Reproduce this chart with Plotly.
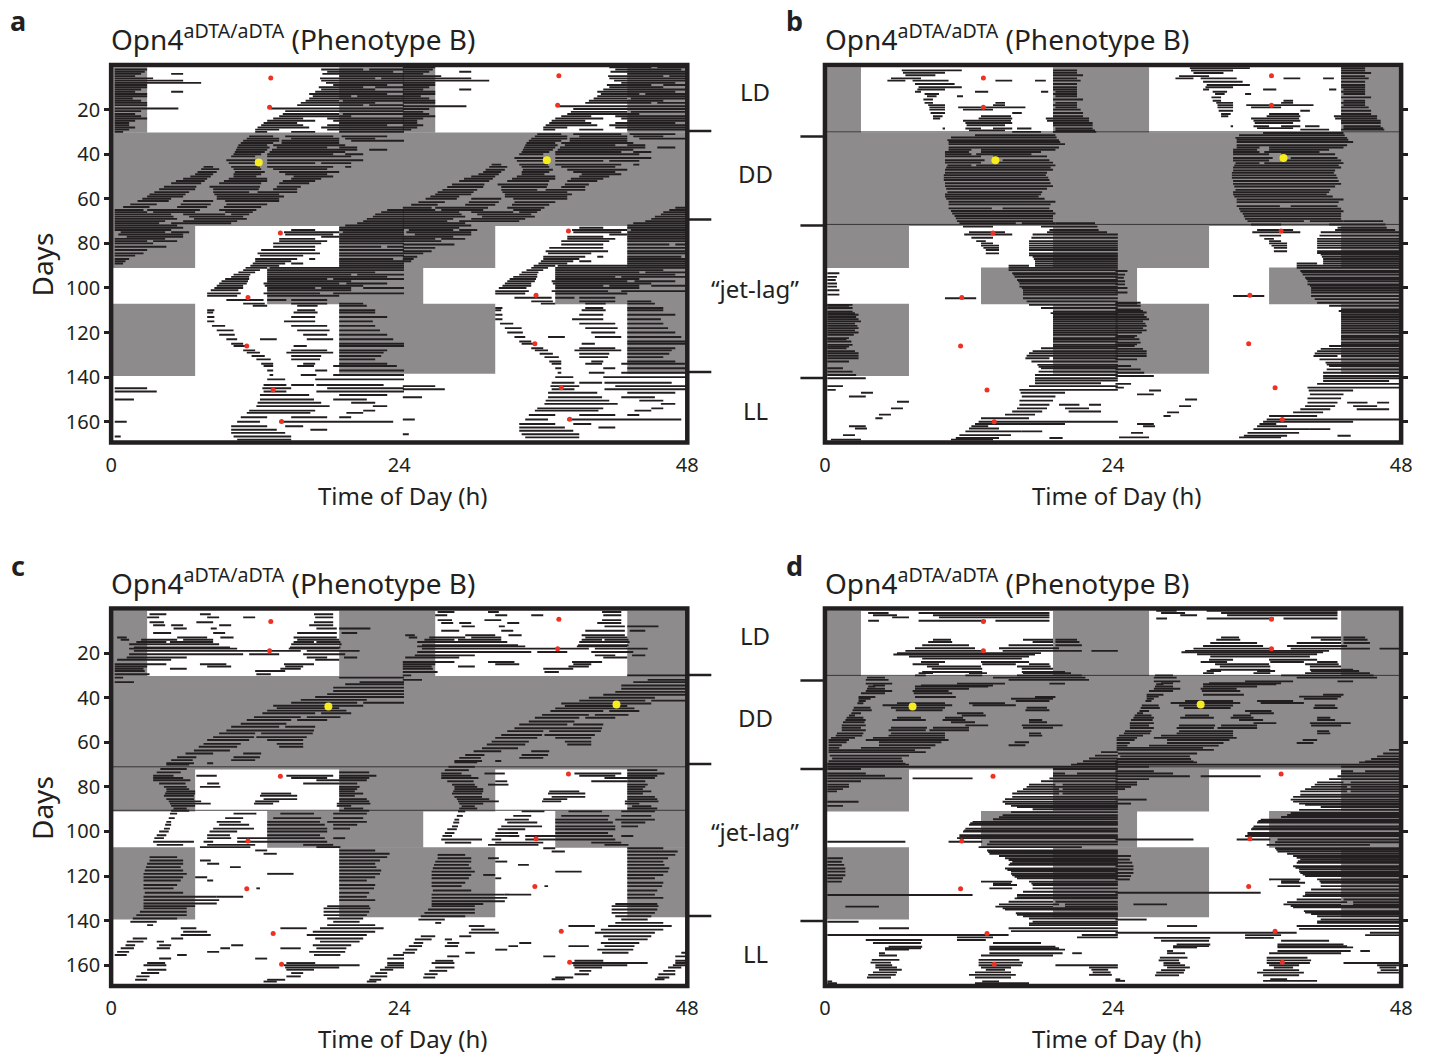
import plotly.graph_objects as go

W, H = 1431, 1057
INK = "#231f20"
GRAY = "#8d8b8c"
RED = "#ee3124"
YEL = "#f7ec1f"

# (day, on, off, on, off, ...) hours in 0-24; the second half of the double plot is the next day's row
a_rows = [
(2,.3,3,17.5,21,21.5,24),(4,.3,2.5,5,6,17.6,24),(6,.3,3.5,17.4,22,22.5,24),(8,.3,7.5,17.9,24),(10,.3,3,17.3,21,22,24),
(12,.3,2,5,6,17,24),(14,.3,3,16.8,20,20.5,24),(16,.3,2.5,16.2,19,19.3,24),(18,.3,3,15.5,21,21.5,24),(19.5,.3,5.6,13.3,24),
(22,.3,2,14.3,19,19.3,24),(24,.3,3,13.5,16,18,24),(26,.3,1.5,12.7,15.5,19,24),(28,.3,2,12.2,16.5,17.5,24),(30,.3,1,12,13,15,17,19,24),
(32,11.5,13.5,14.5,18.5,19.2,23),(34,11,14,14.2,19,20,24),(36,10.6,13,13.5,19.5),(38,10.4,13,13.4,20.5,21.5,23),(40,10.2,12.5,13,18.5,19.5,21),
(42.7,9.6,12,13,21),(45.7,7.7,8.5,10,12.4,13,18.5,19.5,20),(48,7.2,8.8,10.3,12.8,14,19),(50,6.6,8.3,10.2,12.1,15.2,18.5),(52,5.4,7.8,9.4,13,14.3,17),
(54.6,4.4,7.1,8.2,12.4,13.8,15.8),(57,3.6,6.5,8.5,11.5,12.2,15.5),(59,3,6,8.8,14.4),(61,2.2,4.8,6,8.5,9.5,14),(62.5,1.6,3.8,5.8,8.3,9.6,13),
(65,.3,2.7,3,7.4,9,12.1,23,24),(67,.3,5,6,9.5,10,11.5,22,24),(69,.3,5.5,6.9,11.3,21.3,24),(71,.3,4,5,10,20.5,24),(73,.3,6,19,24),
(75,.8,4.5,5,6.5,14.4,19,19.3,24),(77,1.3,6,17.5,19,19,24),(79,.3,3,3.5,5.5,14,18,19,24),(81.5,.3,4.6,13.5,17,19,22.5,23,24),(84.5,.3,2.7,12.2,17.4,19,24),
(87,.3,1.5,12,15.5,16.5,17,19,23.5),(89,.3,1,11.8,14.5,15,16,19,24),(92,11,12.4,13,24),(94,10.2,11.6,13,20,20.5,24),(96,9.5,11.5,13,18,18.5,24),
(98,9,11.3,12.7,19,19.6,23),(100,8.6,11,13,17,17.5,20,21,24),(102.4,8,10.8,12.7,17.4,18.5,24),(105.4,9.6,12.7,13,14.6,15,18),(108,11.8,13,15.5,17.2,19,21.3),
(111,8,8.5,15.2,17.2,19,22),(115,8,8.6,14.4,17,19,21.8),(119,8.8,10.2,15.5,18.2,19,22.4),(123,9.6,10.5,12.4,13.8,16.3,18.5,19,23.5),(126,10.2,11.3,15.2,16.3,19,24),
(129,11.3,12.4,14.6,18.5,19,22.7),(132,12.1,13.3,15,17.4,19,22),(135,12.7,13.5,15.5,16.9,18.5,23.8),(139,13.2,13.5,15.8,17.1,18.5,24),(143.5,12.7,14.6,15,16.9,17.1,22.7),
(146.4,.3,3.8,12.7,14.6,17.1,24),(150,.3,1.9,12.4,16.9,18.5,21.3),(153,12.1,18.2,21.8,23),(156,11.3,16.6,19.6,21),(160,.3,1.3,10.5,12.4,14,23.5),
(163.6,10,13.8,16.6,18),(166.6,10.2,15,.3,.8),
]
a_extra = [
(3,.3,2.8,18,23.5),(5,.3,2,19,24),(7,.3,6,17.5,24),(9,.3,3,18.5,23),(11,.3,2.5,17.5,22),(13,.3,3,16.5,23),(15,.3,1.8,16.5,24),(17,.3,3,15.8,22),(20.7,.3,2.5,14.5,24),
(23,.3,2.5,14,20),(25,.3,2,13,17,18.5,24),(27,.3,1.5,12.5,16,18,23),(29,.3,1.5,12,14,18,24),
(33,11.3,14,15,19,19.5,22),(35,10.8,13.5,14.2,19),(37,10.5,13.2,13.8,18,19,20.5),(39,10.3,12.8,13.2,19.5),(41,10,12,13,20),(44,9.8,12,13,17,17.5,20),(46.7,7.5,9,10.2,12.5,13.5,18),
(49,7,8.5,10.2,12.5,14.5,18),(51,6,8,9.8,13,15,17.5),(53,5,7.5,9,12.5,14,16.5),(55.7,4,7,8.5,12.3,13.5,15.5),(58,3.2,6.2,8.6,14),(60,2.6,5,8.8,14),(63.7,1,3.2,5.5,8,9.4,12.5),
(66,.3,3,3.5,7,9.5,11.8,22.5,24),(68,.3,5.2,6.5,11,21.8,24),(70,.3,4.5,6,10.5,21,24),(72,.3,5.5,19.5,24),(74,.3,5,15,17,19,24),(76,.6,6,14.5,18.5,19,24),(78,.3,4.5,14,17,19,24),
(80,.3,3.5,13.5,17.5,19,24),(83,.3,3,12.5,17,19,24),(85.5,.3,2,12.4,16,19,24),(88,.3,1.2,12,15,19,24),(90,11.6,14,19,24),(91,11.2,13,13.2,24),(93,10.6,12,13,22),(95,10,11.5,13,23),
(97,9.2,11.4,13,20),(99,8.8,11,12.8,21),(101,8.3,10.6,13,20),(103.5,8,10.5,13,19),(107,11,12.8,15,18,19,21),(110,8,8.6,15.5,17,19,22),(113,8,8.6,15,17,19,23),(117,8.4,9.5,15,18,19,22),
(121,9,10.3,16,18,19,23),(125,10,11,19,24),(128,11,12,15,18,19,23),(130.5,11.7,12.8,15,17.5,19,22.5),(134,12.5,13.5,16,17,19,23),(137,13,13.5,17,18,19,24),(141,13,14.5,17,24),
(145,.3,3,12.6,15,18,24),(148,12.4,16.5,19,23),(151.5,12.2,17.5,20,22),(155,11.5,17,21,22),(158,10.8,13,15,18,19,20),(162,10,13,14.5,16),(165,10,14.5),(168,10.5,15),
]
a_red_h = [13.3,13.2,14.1,11.4,11.3,13.5,14.2]
a_red_d = [5.8,19,75.4,104.3,126,145.7,159.9]
a_yel = (12.3,43.7)
a_thin = []

b_rows = [
(2.4,6.4,11.4,19,21),(4.6,6.7,9.2,19,21.5),(7,5.2,6.7,7.3,10.3,14.2,15.6,17.5,18.4,19,21.3),(10,7.8,11.4,19,21),(12,7.5,8,12.5,13.6,18,18.6,19.2,21),
(14,8.5,9.3,11,11.5,19.2,21),(17,8.3,9,14.2,15,19.2,21),(19,8.7,10,11.1,16.7,19.2,21),(21.5,8.8,10,15.6,16.4,19,21.5),(24,9,9.6,12.8,15.6,18.4,22),
(26,11.7,15.6,19,22.3),(28.5,9.8,10,11.7,13,14,15.6,16,17.2,19.2,22.3),(30,15.6,18,19,22.6),(31.5,12.5,19.2),(33.7,10.2,19.5),(35.5,10.3,20),
(38,10.3,12.2,13,19.2),(40,10,12.2,12.6,17.2),(42.7,10,13.3,14.8,18.7),(45,10.2,12.2,12.6,19.2),(47,10,19),(49.4,9.9,18.4),(51.6,9.9,18.7),
(54.3,10,19),(57,10.2,18.1),(59,10,17.8),(61.3,10.3,19.2),(64.3,10.3,13.9,14.8,18.7),(66.6,10.6,19.2),(68.8,10.9,19),(71,11.2,15.9,16.4,19.2,19.2,22.5),
(74,18.7,22.8),(76,11.6,15.6,17.3,24),(79,12.6,13.4,17,24),(81,13,14.5,17,24),(83,13.4,14.5,17,24),(84.5,13.4,14.5,17,24),(86,17.3,24),(88,17.5,24),(90,15.3,17,17.5,24),
(92,15.3,24),(93.4,.2,1.2,15.6,24),(95,.2,1,15.8,24),(96.4,.2,.9,16,24),(98,.2,1,16.2,24),(99.4,.2,1,16.2,24),(101,.2,1.2,16.5,24),(103,.2,1.2,16.5,24),
(104.6,10,12.6,16.5,24),(107.6,.2,2.3,17,24),(109,.2,2.3,18,24),(110.6,.2,2.3,19,24),(112,.2,2.8,19,24),(114,.2,2.8,19,24),(116,.2,2.5,19,24),(118,.2,2.8,19,24),(120,.2,2.8,19,24),
(122.5,.2,2,19,24),(124,.2,2.2,19,24),(125.5,.2,2.3,19,24),(127,.2,1.8,18,24),(129.3,.2,2.8,17,24),(131.5,.2,2.8,16.7,18.7,19,24),(134.5,17.7,24),(136,.2,1.5,18,24),(137.5,.2,2.3,17.8,24),
(140.5,.2,3.4,17.5,24),(142.7,17.5,23),(145.7,.2,.9,16.2,24),(148.7,2,3.4,16.4,19.2),(152.4,16.2,18.7,19.5,21.2,22,23),(155.4,15.6,18.1,20.3,23),(158.4,4.2,4.8,13,17),(160,12.8,24),
(162,2,3.4,12.2,13.6),(164.3,11.7,16.4,16.4,18.1),(167.3,10.9,14.5,18.7,19.8),
]
b_extra = [
(3.5,6.5,10,19,21),(6,5.5,8,19,21),(8.5,7.5,10.8,19,21),(11,7.7,10,19,21),(13,8.3,9.5,19,21),(15.5,8.2,9,19,21.5),(18,8.6,10,14,15,19,21),(20,8.7,10,11.5,14,19,21.3),(23,9,9.8,13,15.5,19,21.5),
(25,11.5,15.5,18.5,22),(27,11.8,15,19,22.3),(29.3,12,15,19.2,22.5),(32.5,10.5,19.3),(34.5,10.3,19.6),(37,10.3,19.5),(39,10,12,13,18),(41,10,13,14,18.5),(43.8,10,13,14,19),(46,10.1,18.8),
(48.3,10,18.5),(50.5,9.9,18.6),(53,10,18.8),(55.5,10.1,18.5),(58,10,18),(60,10.1,18.3),(62.5,10.3,18.8),(65.5,10.5,19),(67.7,10.8,19),(70,11,19),(72.5,11.5,14,18,22.7),(75,12,15,18.5,23.5),
(77.5,12.2,14,17.2,24),(80,13,14,17,24),(82,13.2,14.5,17,24),(85.3,17,24),(87,17.4,24),(89,17.5,24),(91,15.3,24),(94,15.7,24),(97,16.1,24),(100,16.4,24),(102,16.5,24),(106,16.8,24),
(108,.2,2),(111.3,.2,2.5,18.8,24),(113,.2,2.6,19,24),(115,.2,3,19,24),(117,.2,2.7,19,24),(119,.2,2.5,19,24),(121,.2,2.4,19,24),(123,.2,1.8,19,24),(126.3,.2,2,19,24),(128.3,.2,2.5,17.3,24),
(130.4,.2,2.8,16.8,24),(133,.2,2,17.2,24),(135.3,17.8,24),(139,.2,2.6,17.5,24),(141.5,17.5,24),(144,.2,1.5,17,24),(147,3,4,16.3,20),(150.5,16.2,19),(151,6,7),(154,5.5,6.5,16,18.5,20,22),
(156.8,4.5,5.5,15,17.5),(161,12.5,20),(163,2.5,3.5,12,14.5),(166,1.5,2.5,11.2,15.5),(168,.5,3,10.5,14),
]
b_red_h = [13.2,13.2,14.0,11.4,11.3,13.5,14.1]
b_red_d = [5.8,19,75.4,104.3,126,145.7,160]
b_yel = (14.2,42.7)
b_thin = [30,71.5]

c_rows = [
(2.6,3.2,4.6,7.4,8.3,16.9,18.5),(6.2,3.2,4.4,7.1,8.5,16.9,18.5),(9,5.2,6.3,8.3,8.8,17.1,18.8,19,21.6),(13,.5,1.3,5.5,8,9.1,10.2,15.2,18.8),
(15,2.1,4.6,4.9,8.5,15.2,16.9,17.1,19.1),(17.5,1.9,9.9,14.9,19.1),(19,1.9,15.8,16.3,20.7),(22,1.3,6.3,16.3,18,19.4,20.5),(25,.3,4.6,7.4,9.6,14.4,16.9),
(27,.3,2.7,4.9,6.3,14.1,15.8),(29.5,.3,3.2,12.1,13.3),(33,.3,1.9,20.7,24),(35.5,18.5,24),(38.4,18,24),(41,15.8,21.3),(43.6,13.5,18,18.3,21),
(45.8,13,19.6),(48.7,11.9,15.8,16.3,19.1),(51.7,10.8,14.6),(54.7,9.6,16.9),(57.7,8.5,11.9,12.1,16.3),(60.7,7.7,10.8,13.8,16),(63.7,6.9,9.9),(66.7,5.5,7.1,10.2,12.4),
(69.4,4.6,6.9,8,8.5),(72,4.1,6.3),(75,3.5,5.2,7.1,8.8,14.6,18.5,19,22.1),(77,3.5,6.6,17.1,21.3),(80,4.4,6.3,7.4,9.1,19,20.7),(82,4.6,7,19,20.3),(84,4.4,6.9,12.4,15.5,19,20.3),
(85.5,4.6,6.9,12.7,15.5,19,21.3),(87.5,4.9,8.3,11.9,13.5,18.8,21.6),(89.7,5.2,6.3,19.4,21),(92,4.9,5.5,10.2,12.1,14.1,16.9,18.5,21.3),(95.7,4.6,5,8.8,10.8,13,17.4,18,21.3),
(98.7,4.4,4.9,8.5,11.9,13,18,18.5,19.9),(101.7,3.8,4.6,8,9.9,13,17.4),(104.6,3.5,6.9,7.7,8.5,10.5,18),(107,7.4,11.6,17.1,19.1),(110,12.7,13.8,19,23.2),(113,3.2,6,7.4,8.3,19,22.4),
(116,2.9,5.8,9.9,10.8,19,22.1),(119,2.7,6.3,13,15.2,19,22.4),(122,2.7,5.8,8,8.5,19,21.3),(125.5,2.7,5.2,12.1,12.4,19,21.9),(129.3,2.7,8.8,8.8,11,19,21.3),(132.3,2.7,8.8),(134.5,2.7,6.3,17.7,21.6),
(137.5,2.1,6.3,17.7,21.3),(140.5,1.6,3.8,18.5,20.7),(143.4,5.8,7.1,14.1,16.3,17.4,22.7),(146.4,5.8,8.3,16.3,21.3),(149.4,1.3,2.7,3.8,4.4,17.4,20.7),(152.4,.8,1.9,3.8,4.9,9.1,9.9,14.1,15.8,17.1,19.6),
(155.4,.3,1.3,5.5,6.3,16.9,19.1,23.5,24),(160,2.7,4.6,14.4,20.7,23,24),(162,3,4.6,14.6,16.9,22.4,23.5),(165,2.1,3.2,14.6,15.8,21.6,23),(167.3,12.7,13.8,21.3,22.1),
]
c_extra = [
(4,3,4,8,9,11,12,17,18.5),(7.5,3.5,4.5,5,6,9,10,16.5,18.5),(11,3.5,5,8.5,9.5,15.5,18.8,19.2,20.5),(14,.8,1.5,2.5,5.5,6,8.5,15.5,19),(16,1.5,9,15,19.2),(18,1.5,10.5,14.8,19),(20.5,1.5,11,11.5,14,16,19.5),
(23,.5,5,17,19),(26,.3,3,8,10,14.5,16),(28,.3,2.8,12,14.5),(31,.3,1,19,24),(34,19.5,24),(37,18.5,24),(39.7,17,24),(42.3,15,20.5,21,24),(44.7,13.8,19),(47,12.6,17,17.5,20),(50,11.3,15,15.5,18),
(53,10,14,14.5,17),(56,9,12,12.5,16.8),(59,8,11.5,13,16),(62,7.3,10.5,14,16),(65,6.2,8.5,11,12.5),(68,5,6.8,10,12),(70,4.6,6.5),(73.5,3.8,5.8,19,21.5),(76,3.5,6,15,18,19,21.5),(78.5,4,6.2,8,9,16,19,19,20.5),
(81,4.6,6.5,19,20.5),(83,4.5,7,12.5,15,19,21),(86.5,4.8,7.5,12,14,19,21.5),(88.5,5,7,18.8,20),(90.7,5,6.5,19,21.5),(94,4.8,5.3,9.5,11,13.5,17.5,18.5,21),(97,4.5,5,9,11.5,13,17.8,18.5,20.5),(100,4,4.8,8.2,10.5,13,18),
(103,3.6,4.4,8,10,10.5,17.8,18.5,19.5),(106,3.8,6,8,12,16,18.5),(108.5,12,13,19,22),(111.5,3.2,5.5,19,23),(114.5,3,6,8,9,19,22),(117.5,2.8,6,19,22.5),(120.5,2.7,6,7,8,19,22),(124,2.7,5.5,19,22),(127.5,2.8,6,19,21.5),
(130.8,2.7,9,19,22),(133.5,2.7,7,18,21.5),(136,2.4,6.3,17.7,21.5),(139,1.8,5.5,18,21),(142,3,3.5,18,22),(145,6,8,16.8,22),(148,1.8,3,5,6,17,21),(151,1.2,2,4,5,10,11,16.8,20),(154,.5,1.5,8,9,16.5,19.5),(157,4,5,12,13,23,24),
(159,3,4.5,14.6,17,23,24),(161,14.5,19,22.8,24),(163.5,2.5,4,15,16,22,23),(166.5,2,3,13,14.5,21.5,22.5),
]
c_red_h = [13.3,13.2,14.1,11.4,11.3,13.5,14.2]
c_red_d = [5.8,19,75.2,104.3,125.7,145.7,159.6]
c_yel = (18.1,44)
c_thin = [71,90.5]

d_rows = [
(2,3.6,5.3,7.8,18.7),(4,5.6,7,9.5,18.7),(5.5,3.6,4.5,7.8,13.4,14.2,18.7),(15,8.6,10.6,17.3,19,19.2,21.2),(16.5,8.1,12,15.3,19,19.2,21.4),(19,6.7,13.1,14.8,21.4,22.2,24),
(20.6,5.7,17.5),(22.5,8.1,16.4),(25,7.3,9.5,13.1,15.9,17,18.7),(27,8.9,13.1,16.4,19),(28.5,8.1,13.1,16.4,20),(30,7.5,8.4,11.7,13.1,16,21.4),(32,3.4,5.3,15.3,22),(33.7,3.4,5.6,11,15,18.7,20),
(35,3.6,4.2,7.5,13.6),(37,3.4,5.6,7.3,10.3),(39.7,2.8,4.2,7.5,10.9,17.5,19.2),(41.5,2.8,3.4,15.9,18.7),(43.4,4.8,7.3,7.3,10.6,12.3,15.9),(45.6,2.3,3.9,5.9,9.8,16.7,18.7),(48,2,2.5,11.4,13.4),
(50,1.7,3.4,5.6,8.4,9.8,11.7,17,18.1),(52.4,1.4,3.4,11.7,13.6,16.4,19.8),(54.6,1.4,3.4,5.3,8.4,8.7,12),(57,.9,3.1,5.3,10,17,18.1),(59,.3,2,3.4,10.3),(61.3,.3,1.4,4.5,9.2,15.3,16.7),
(64.4,.3,8.4,23,24),(67.3,.6,6.4,22,24),(69.6,.2,6.7,21,24),(71,.2,24),(74,.2,3.4,19,20,21,24),(76.2,.2,6.4,7.3,12.3,18.7,24),(79,.2,2,17,19.2,19.8,24),(81,.2,1.5,16.5,19.5,19.8,24),(83,15.6,19.5,19.8,24),
(84.5,15.6,24),(86.7,.2,2.8,14.8,24),(88.5,.2,1.5,15.5,24),(90,17.3,24),(92.7,14.8,24),(94.5,14,24),(95.7,12.3,24),(97,12,24),(98.7,11.7,15,15,24),(100,11.5,24),(101.7,11.2,24),(103,11,24),
(104.6,.2,6.7,10.3,13.1,13.7,24),(107,12.8,21.4),(108.5,13.5,24),(110,13.7,24),(112,.2,1.5,15,24),(113.6,.2,1.4,15.6,24),(115,.2,1.6,15.3,24),(116.6,.2,1.7,15,24),(118,.2,1.7,15.5,24),(119.6,.2,1.7,15.6,24),
(121,.2,1.5,16,24),(122.5,.2,1.4,13,15.6,17,24),(124,14,16,17.3,24),(125.5,13.7,15.6,17.3,24),(128.5,.2,12.3,16,24),(130,15.8,24),(131.5,15.3,19,19.2,24),(133.7,1.7,4.5,14.2,19,20,24),(135,15,24),
(136.7,15.9,24),(138,16.5,24),(140.5,.2,2.8,17.3,24),(142,17,24),(143.4,4.5,7,15.3,24),(146.4,.2,15.3,21.4,24),(148.7,3.4,8.1,11,13.4),(151.7,5.3,8.1,13.7,19.2),(153,5,7,13.7,20),
(154.6,4.5,5,13.7,19.8,20.6,21.4),(157.6,3.9,6.2,12.8,16.2),(160,4.2,5.6,12.8,16.4,19.2,24),(162,4.5,6.4,13.4,15,22.2,23.6),(164.3,3.6,5.9,12,15.9,22,23.9),(167.3,.2,.6,13.1,14.5),
]
d_extra = [
(3,4,6,9,18.7),(14,9,10.5,16.5,19,19.2,21),(17.8,7.5,12.5,14.5,19.5),(20,6,18),(21.5,7,17),(24,8,10,13,17),(26,8.5,13,16,18.8),(29,7.8,9,12,13.5,16.5,20.5),(31,3.5,5,14,21.7),(34.5,4,5,8,14),(36,3.5,5,7.5,12),(38,3,5,7.4,10.6),
(40.5,2.8,3.8,15.5,19),(42.5,2.7,3.2,6,10,12,15),(44.5,2.4,3.8,5.5,10,16.8,18.5),(47,2.2,3,11,13.2),(49,1.8,3.2,6,8,10,11.5),(51,1.5,3.3,10.5,12.5,17,18.5),(53.5,1.4,3,5.5,8.5,9,12,16.5,19),(56,1,3.2,5.5,10,17,18),(58,.5,2.5,4,10),
(60,.3,1.8,4.5,9.7,15.8,17),(62.5,.3,1.2,3,8.8),(63.5,.3,7.5),(66,.4,7,22.5,24),(68.5,.3,6.5,21.5,24),(70,.2,7,20.5,24),(72,.2,3,19,24),(75,.2,5,19,24),(77.5,.2,3,18,24),(80,.2,2,16.8,24),(82,.2,1,16,24),
(85.5,15,24),(87.6,15,24),(89,16,24),(91.3,15.5,24),(93.6,14.5,24),(96.3,12.1,24),(99.5,11.6,24),(102.4,11.2,24),(105.8,13.5,24),(109.2,13.6,24),(111,14.5,24),(112.8,15.3,24),(114.3,15.4,24),(117.3,15.2,24),(119,15.5,24),(120.3,15.8,24),
(123.3,14,15.5,17.2,24),(127,16.5,24),(129.5,16,24),(132.7,14.5,19.5,20,24),(134.4,14.8,24),(137.4,16,24),(139,17,24),(141.3,17,24),(144.7,15.5,24),(147.5,11,14,21,24),(150,4,8,14,18),(152.4,5,8,13.7,19.5),(155.6,4.5,6,13,19),
(158.8,3.8,5.5,12.8,16.5),(161,4.2,6,13,15.5,22,24),(163.2,4,6,12.5,15.5,22.3,23.8),(165.5,3.5,5.5,12.5,15.5),(168,.2,1,12.5,17),
]
d_red_h = [13.2,13.2,14.0,11.4,11.3,13.5,14.1]
d_red_d = [5.8,19,75.2,104.3,125.7,145.7,159.6]
d_yel = (7.3,44)
d_thin = [30,71]

# gray (dark-phase) blocks, shared by all four panels
rect_h0 = [0,19,43, 0, 0,19,43, 13,37, 0,19,43]
rect_h1 = [3,27,48, 48, 7,32,48, 26,48, 7,32,48]
rect_d0 = [1,1,1, 30.3, 72,72,72, 90.8,90.8, 107.1,107.1,107.1]
rect_d1 = [30.4,30.4,30.4, 72.2, 91,91,91, 107.3,107.3, 139.5,138.5,138.5]

y_ticks = [20,40,60,80,100,120,140,160]
x_ticks = [0,24,48]
phase_names = ["LD","DD","“jet-lag”","LL"]
phase_y = [92,174,288,410]

panels = [
    dict(n="",  L=111.5, T=65,    rows=a_rows+a_extra, rh=a_red_h, rd=a_red_d, yel=a_yel, thin=a_thin, letter="a", lx=18,  ly=20,  side="left",  marks=(687,711,[131,219.5,372])),
    dict(n="2", L=824.5, T=65,    rows=b_rows+b_extra, rh=b_red_h, rd=b_red_d, yel=b_yel, thin=b_thin, letter="b", lx=794, ly=20,  side="right", marks=(800,824,[136.5,225.5,378])),
    dict(n="3", L=111.5, T=608.5, rows=c_rows+c_extra, rh=c_red_h, rd=c_red_d, yel=c_yel, thin=c_thin, letter="c", lx=18,  ly=565, side="left",  marks=(687,711,[675,764,916])),
    dict(n="4", L=824.5, T=608.5, rows=d_rows+d_extra, rh=d_red_h, rd=d_red_d, yel=d_yel, thin=d_thin, letter="d", lx=794, ly=565, side="right", marks=(800,824,[680.5,769,921])),
]
PW, PH = 575.5, 377.5

# The rendered plot area came out 6.5 px in and 0.987 wide, so page x positions are mapped through that.
def px(x): return (x - 6.5) / 0.98697 / W
def py(y): return 1 - y / H

fig = go.Figure()
layout = dict(width=W, height=H, margin=dict(l=0, r=0, t=0, b=0, pad=0), showlegend=False,
              paper_bgcolor="white", plot_bgcolor="white",
              font=dict(family="Noto Sans", color=INK), hovermode=False)
shapes, annots = [], []

def txt(x, y, s, size, **kw):
    annots.append(dict(xref="paper", yref="paper", x=px(x), y=py(y), text=s, showarrow=False,
                       xanchor=kw.pop("xanchor", "center"), yanchor="middle",
                       font=dict(size=size, color=INK, family="Noto Sans"), **kw))

for p in panels:
    n = p["n"]
    xa, ya = "x" + n, "y" + n
    layout["xaxis" + n] = dict(domain=[px(p["L"]), px(p["L"] + PW)], range=[0, 48], anchor=ya,
                               tickvals=x_ticks, ticks="outside", ticklen=4, tickcolor="rgba(0,0,0,0)",
                               showgrid=False, zeroline=False, showline=False,
                               tickfont=dict(size=20, color=INK))
    layout["yaxis" + n] = dict(domain=[py(p["T"] + PH), py(p["T"])], range=[169.3, 0], anchor=xa,
                               side=p["side"], tickvals=y_ticks, ticks="outside", ticklen=6, tickwidth=3,
                               tickcolor=INK, showticklabels=p["side"] == "left",
                               showgrid=False, zeroline=False, showline=False,
                               tickfont=dict(size=20, color=INK))
    for h0, h1, d0, d1 in zip(rect_h0, rect_h1, rect_d0, rect_d1):
        shapes.append(dict(type="rect", xref=xa, yref=ya, x0=h0, x1=h1, y0=d0, y1=d1,
                           fillcolor=GRAY, line_width=0, layer="below"))
    xs, ys = [], []
    for row in p["rows"]:
        d, seg = row[0], row[1:]
        for i in range(0, len(seg), 2):
            end = seg[i + 1] + (0.4 if seg[i + 1] >= 24 else 0)
            xs += [seg[i], end, None, seg[i] + 24, end + 24, None]
            ys += [d, d, None, d - 1, d - 1, None]
    fig.add_trace(go.Scatter(x=xs, y=ys, mode="lines", line=dict(color=INK, width=1.9),
                             xaxis=xa, yaxis=ya, hoverinfo="skip"))
    if p["thin"]:
        tx, ty = [], []
        for d in p["thin"]:
            tx += [0, 48, None]
            ty += [d, d, None]
        fig.add_trace(go.Scatter(x=tx, y=ty, mode="lines", line=dict(color=INK, width=0.8),
                                 xaxis=xa, yaxis=ya, hoverinfo="skip"))
    fig.add_trace(go.Scatter(x=p["rh"] + [h + 24 for h in p["rh"]],
                             y=p["rd"] + [d - 1 for d in p["rd"]], mode="markers",
                             marker=dict(color=RED, size=5), xaxis=xa, yaxis=ya, hoverinfo="skip"))
    yh, yd = p["yel"]
    fig.add_trace(go.Scatter(x=[yh, yh + 24], y=[yd, yd - 1], mode="markers",
                             marker=dict(color=YEL, size=8), xaxis=xa, yaxis=ya, hoverinfo="skip"))
    # panel frame, centred on the plot edge
    shapes.append(dict(type="rect", xref="paper", yref="paper", x0=px(p["L"]), x1=px(p["L"] + PW),
                       y0=py(p["T"] + PH), y1=py(p["T"]), line=dict(color=INK, width=4.5), layer="above"))
    x0, x1, ys_m = p["marks"]
    for ym in ys_m:
        shapes.append(dict(type="line", xref="paper", yref="paper", x0=px(x0), x1=px(x1),
                           y0=py(ym), y1=py(ym), line=dict(color=INK, width=2.5)))
    txt(p["L"] - 2, p["T"] - 27, "Opn4<sup>aDTA/aDTA</sup> (Phenotype B)", 28, xanchor="left")
    txt(p["L"] + 291, p["T"] + 430, "Time of Day (h)", 24)
    annots.append(dict(xref="paper", yref="paper", x=px(p["lx"]), y=py(p["ly"]),
                       text="<b>%s</b>" % p["letter"], showarrow=False, xanchor="center", yanchor="middle",
                       font=dict(size=27, color=INK, family="Noto Sans")))
    if p["side"] == "left":
        annots.append(dict(xref="paper", yref="paper", x=px(42), y=py(p["T"] + 200), text="Days",
                           textangle=-90, showarrow=False, xanchor="center", yanchor="middle",
                           font=dict(size=28, color=INK, family="Noto Sans")))
        for name, yy in zip(phase_names, phase_y):
            txt(755, yy + (p["T"] - 65), name, 24)

layout["shapes"] = shapes
layout["annotations"] = annots
fig.update_layout(**layout)
fig.write_html("out.html", config=dict(displayModeBar=False),
               post_script="document.body.style.margin='0';")
